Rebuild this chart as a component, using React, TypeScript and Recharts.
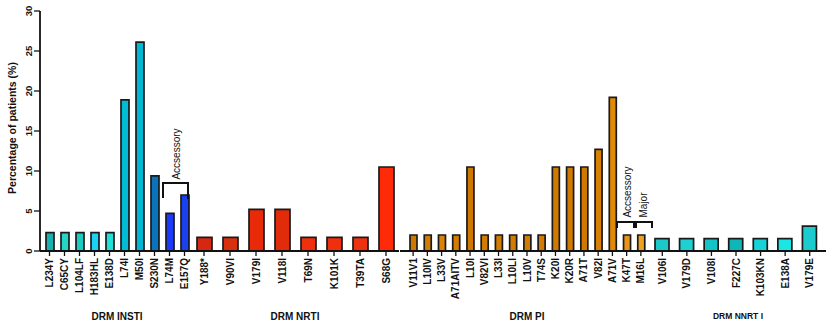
import React from 'react';
import { BarChart, Bar, XAxis, YAxis, Cell } from 'recharts';

// Mutation frequencies (% of patients)
const instiLabels = ['L234Y', 'C65CY', 'L104LF', 'H183HL', 'E138D', 'L74I', 'M50I', 'S230N', 'L74M', 'E157Q'];
const instiValues = [2.3, 2.3, 2.3, 2.3, 2.3, 18.9, 26.1, 9.4, 4.7, 7.0];
const instiColors = ['#17b2b0', '#25d4c6', '#1ecbc0', '#1cd2f2', '#22e0d6', '#02bcd6', '#00b8d4', '#0b73bc', '#1a3aff', '#1b40f0'];

const nrtiLabels = ['Y188*', 'V90VI', 'V179I', 'V118I', 'T69N', 'K101K', 'T39TA', 'S68G'];
const nrtiValues = [1.7, 1.7, 5.2, 5.2, 1.7, 1.7, 1.7, 10.5];
const nrtiColors = ['#d62810', '#d8300f', '#e82a08', '#e02c0a', '#f0300c', '#f0300c', '#ee3210', '#ff2a08'];

const piLabels = ['V11V1', 'L10IV', 'L33V', 'A71AITV', 'L10I', 'V82VI', 'L33I', 'L10LI', 'L10V', 'T74S', 'K20I', 'K20R', 'A71T', 'V82I', 'A71V', 'K47T', 'M16L'];
const piValues = [2.0, 2.0, 2.0, 2.0, 10.5, 2.0, 2.0, 2.0, 2.0, 2.0, 10.5, 10.5, 10.5, 12.7, 19.2, 2.0, 2.0];
const piColors = ['#cf7800', '#d27c02', '#d98406', '#d27c02', '#cf7800', '#d27c02', '#d27c02', '#d27c02', '#d27c02', '#d27c02', '#d07a00', '#d07a00', '#d07a00', '#d88204', '#e08a08', '#e8941a', '#f0a020'];

const nnrtiLabels = ['V106I', 'V179D', 'V108I', 'F227C', 'K103KN', 'E138A', 'V179E'];
const nnrtiValues = [1.55, 1.55, 1.55, 1.55, 1.55, 1.55, 3.1];
const nnrtiColors = ['#1cc8c8', '#1ed0d0', '#12c4c6', '#10b6b6', '#16d4d6', '#1ae6e6', '#1ccccc'];

const yTicks = [0, 5, 10, 15, 20, 25, 30];

const FONT = '"Liberation Sans", Arial, sans-serif';
const INK = '#111';

const XTick = ({ x, y, payload }: any) => (
  <text
    transform={`translate(${x},${y}) rotate(-90)`}
    textAnchor="end"
    dy="0.35em"
    fontSize={10}
    fontWeight="bold"
    fontFamily={FONT}
    fill={INK}
  >
    {payload.value}
  </text>
);

const YTick = ({ x, y, payload }: any) => (
  <text
    transform={`translate(${x},${y}) rotate(-90)`}
    textAnchor="middle"
    fontSize={9.5}
    fontWeight="bold"
    fontFamily={FONT}
    fill={INK}
  >
    {payload.value}
  </text>
);

type GroupProps = {
  labels: string[];
  values: number[];
  colors: string[];
  left: number;
  width: number;
  barSize: number;
  padLeft?: number;
  padRight?: number;
  showY?: boolean;
};

const Group: React.FC<GroupProps> = ({ labels, values, colors, left, width, barSize, padLeft = 0, padRight = 0, showY = false }) => {
  const data = labels.map((name, i) => ({ name, value: values[i] }));
  return (
    <div style={{ position: 'absolute', left, top: 0 }}>
      <BarChart width={width} height={326} data={data} margin={{ top: 11, right: 0, left: 0, bottom: 0 }}>
        <XAxis
          dataKey="name"
          interval={0}
          height={75}
          tickSize={5}
          padding={{ left: padLeft, right: padRight }}
          axisLine={{ stroke: INK, strokeWidth: 1.8 }}
          tickLine={{ stroke: INK, strokeWidth: 1.3 }}
          tick={<XTick />}
        />
        <YAxis
          domain={[0, 30]}
          ticks={yTicks}
          hide={!showY}
          width={40}
          tickSize={6}
          axisLine={{ stroke: INK, strokeWidth: 1.8 }}
          tickLine={{ stroke: INK, strokeWidth: 1.3 }}
          tick={<YTick />}
        />
        <Bar dataKey="value" barSize={barSize} stroke="#1a1a1a" strokeWidth={1.7} isAnimationActive={false}>
          {data.map((d, i) => (
            <Cell key={d.name} fill={colors[i]} />
          ))}
        </Bar>
      </BarChart>
    </div>
  );
};

const App: React.FC = () => {
  return (
    <div style={{ position: 'relative', width: 826, height: 326, background: '#fff', overflow: 'hidden' }}>
      <style>{'body{margin:0}'}</style>
      <Group labels={instiLabels} values={instiValues} colors={instiColors} left={0} width={192} barSize={8} padLeft={2} showY />
      <Group labels={nrtiLabels} values={nrtiValues} colors={nrtiColors} left={191} width={208} barSize={15} />
      <Group labels={piLabels} values={piValues} colors={piColors} left={400} width={248} barSize={7} padLeft={6} />
      <Group labels={nnrtiLabels} values={nnrtiValues} colors={nnrtiColors} left={648} width={178} barSize={14} padLeft={2} padRight={4} />

      <svg width={826} height={326} style={{ position: 'absolute', left: 0, top: 0, pointerEvents: 'none' }}>
        <g fontFamily={FONT} fill={INK}>
          <text transform="translate(16,128) rotate(-90)" textAnchor="middle" fontSize={10.5} fontWeight="bold">
            Percentage of patients (%)
          </text>

          <text x={117} y={320} textAnchor="middle" fontSize={10} fontWeight="bold">DRM INSTI</text>
          <text x={295} y={320} textAnchor="middle" fontSize={10} fontWeight="bold">DRM NRTI</text>
          <text x={527} y={320} textAnchor="middle" fontSize={10} fontWeight="bold">DRM PI</text>
          <text x={738} y={319} textAnchor="middle" fontSize={8.5} fontWeight="bold">DRM NNRT I</text>

          <text transform="translate(180,154) rotate(-90)" textAnchor="middle" fontSize={10}>Accsessory</text>
          <text transform="translate(631,192) rotate(-90)" textAnchor="middle" fontSize={10}>Accsessory</text>
          <text transform="translate(647,205) rotate(-90)" textAnchor="middle" fontSize={10}>Major</text>
        </g>
        <g stroke={INK} strokeWidth={2} fill="none">
          <polyline points="163,198 163,183 188,183 188,199" />
          <polyline points="617,228 617,222 634,222 634,228" />
          <polyline points="636,228 636,222 652,222 652,228" />
        </g>
      </svg>
    </div>
  );
};

export default App;
